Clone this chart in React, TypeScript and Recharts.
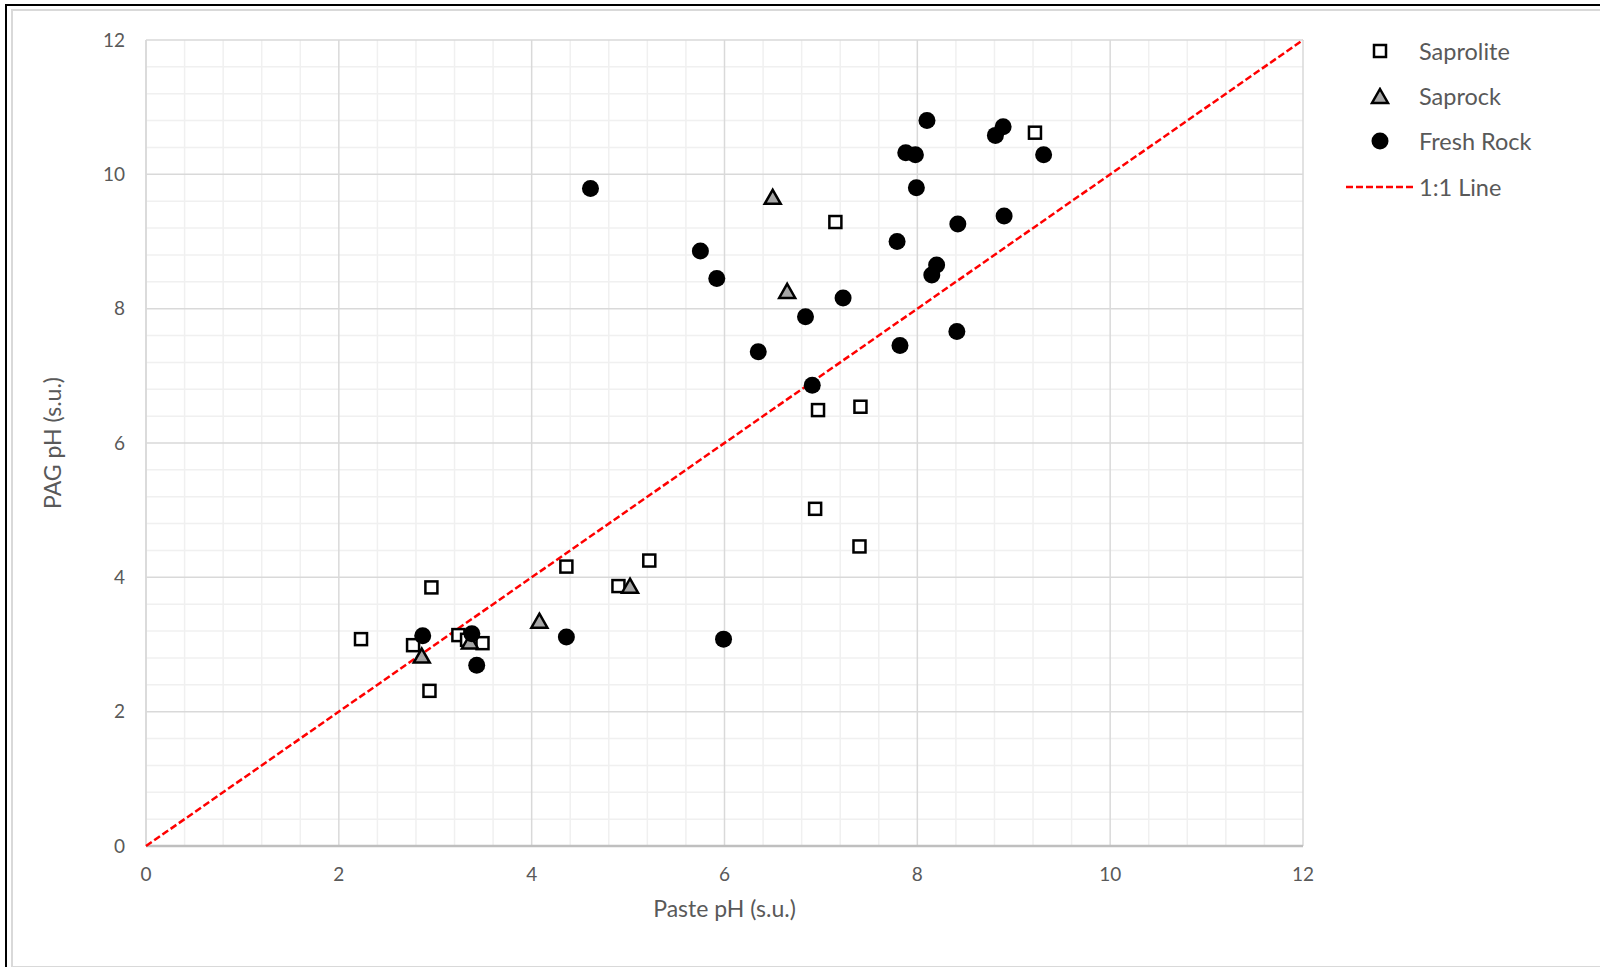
import { ScatterChart, Scatter, XAxis, YAxis, CartesianGrid, ReferenceLine } from 'recharts';

// Saprolite (open squares)
const saproliteX = [2.23, 2.77, 2.96, 2.94, 3.24, 3.33, 3.49, 4.36, 4.9, 5.22, 7.15, 6.97, 7.41, 6.94, 7.4, 9.22];
const saproliteY = [3.08, 2.99, 3.85, 2.31, 3.14, 3.07, 3.02, 4.16, 3.87, 4.25, 9.29, 6.49, 6.54, 5.02, 4.46, 10.62];

// Saprock (grey triangles)
const saprockX = [2.86, 3.36, 4.08, 5.02, 6.5, 6.65];
const saprockY = [2.82, 3.03, 3.34, 3.86, 9.65, 8.25];

// Fresh Rock (filled circles)
const freshX = [2.87, 3.38, 3.43, 4.36, 5.99, 4.61, 5.75, 5.92, 6.35, 6.84, 6.91, 7.23, 7.79, 7.82, 7.88, 7.98, 7.99, 8.1, 8.15, 8.2, 8.42, 8.41, 8.81, 8.89, 8.9, 9.31];
const freshY = [3.13, 3.16, 2.69, 3.11, 3.08, 9.79, 8.86, 8.45, 7.36, 7.88, 6.86, 8.16, 9.0, 7.45, 10.32, 10.29, 9.8, 10.8, 8.5, 8.65, 9.26, 7.66, 10.58, 10.71, 9.38, 10.29];

// 1:1 line end points
const lineX = [0, 12];
const lineY = [0, 12];

const majorTicks = [0, 2, 4, 6, 8, 10, 12];
const minorTicks = [0.4, 0.8, 1.2, 1.6, 2.4, 2.8, 3.2, 3.6, 4.4, 4.8, 5.2, 5.6, 6.4, 6.8, 7.2, 7.6, 8.4, 8.8, 9.2, 9.6, 10.4, 10.8, 11.2, 11.6];

const toPoints = (xs: number[], ys: number[]) => xs.map((x, i) => ({ x, y: ys[i] }));

const saprolite = toPoints(saproliteX, saproliteY);
const saprock = toPoints(saprockX, saprockY);
const freshRock = toPoints(freshX, freshY);
const oneToOne = toPoints(lineX, lineY);

const FONT = 'Lato, "Open Sans", sans-serif';
const TEXT = '#595959';

const Square = (p: any) => (
  <rect x={p.cx - 6} y={p.cy - 6} width={12} height={12} fill="#fff" stroke="#000" strokeWidth={2.5} />
);
const Triangle = (p: any) => (
  <path d={`M${p.cx},${p.cy - 8} L${p.cx + 8},${p.cy + 6} L${p.cx - 8},${p.cy + 6} Z`} fill="#a6a6a6" stroke="#000" strokeWidth={2.5} strokeLinejoin="miter" />
);
const Dot = (p: any) => <circle cx={p.cx} cy={p.cy} r={8.5} fill="#000" />;
const Nothing = () => <g />;

function LegendBox() {
  const row = { display: 'flex', alignItems: 'center', height: 45.3 } as const;
  const mark = { width: 67, display: 'flex', justifyContent: 'center' } as const;
  const label = { fontFamily: FONT, fontSize: 23.5, color: TEXT, marginLeft: 6 } as const;
  return (
    <div style={{ position: 'absolute', left: 1346, top: 28 }}>
      <div style={row}>
        <div style={mark}><svg width={16} height={16}><rect x={2} y={2} width={12} height={12} fill="#fff" stroke="#000" strokeWidth={2.5} /></svg></div>
        <span style={label}>Saprolite</span>
      </div>
      <div style={row}>
        <div style={mark}><svg width={20} height={18}><path d="M10,2 L18,16 L2,16 Z" fill="#a6a6a6" stroke="#000" strokeWidth={2.5} /></svg></div>
        <span style={label}>Saprock</span>
      </div>
      <div style={row}>
        <div style={mark}><svg width={18} height={18}><circle cx={9} cy={9} r={8.5} fill="#000" /></svg></div>
        <span style={label}>Fresh Rock</span>
      </div>
      <div style={row}>
        <div style={mark}><svg width={67} height={6}><line x1={0} y1={3} x2={67} y2={3} stroke="#ff0000" strokeWidth={2.5} strokeDasharray="7 3" /></svg></div>
        <span style={label}>1:1 Line</span>
      </div>
    </div>
  );
}

export default function App() {
  return (
    <div style={{ position: 'absolute', left: 0, top: 0, width: 1600, height: 967, background: '#fff', overflow: 'hidden' }}>
      {/* frame of the original screenshot */}
      <div style={{ position: 'absolute', left: 5, top: 4, width: 1600, height: 967, borderLeft: '2.5px solid #000', borderTop: '2.5px solid #000' }} />
      <div style={{ position: 'absolute', left: 11, top: 9, width: 1600, height: 955, borderLeft: '2px solid #d9d9d9', borderTop: '2px solid #d9d9d9', borderBottom: '3px solid #d9d9d9' }} />
      <ScatterChart width={1600} height={967} margin={{ top: 40, right: 297, bottom: 41, left: 40 }} style={{ position: 'absolute', left: 0, top: 0 }}>
        {minorTicks.map((v) => (
          <ReferenceLine key={'vx' + v} x={v} stroke="#f0f0f0" strokeWidth={1.5} zIndex={-110} />
        ))}
        {minorTicks.map((v) => (
          <ReferenceLine key={'hy' + v} y={v} stroke="#f0f0f0" strokeWidth={1.5} zIndex={-110} />
        ))}
        <CartesianGrid stroke="#d9d9d9" strokeWidth={1.5} />
        <XAxis
          type="number"
          dataKey="x"
          domain={[0, 12]}
          ticks={majorTicks}
          axisLine={{ stroke: '#bfbfbf', strokeWidth: 2.5 }}
          tickLine={false}
          tickSize={0}
          tickMargin={22}
          height={80}
          tick={{ fill: TEXT, fontSize: 19, fontFamily: FONT }}
          label={{ value: 'Paste pH (s.u.)', position: 'insideBottom', offset: 9, fill: TEXT, fontSize: 23, fontFamily: FONT }}
        />
        <YAxis
          type="number"
          dataKey="y"
          domain={[0, 12]}
          ticks={majorTicks}
          axisLine={{ stroke: '#d9d9d9', strokeWidth: 1.5 }}
          tickLine={false}
          tickSize={0}
          tickMargin={21}
          width={106}
          tick={{ fill: TEXT, fontSize: 19, fontFamily: FONT }}
          label={{ value: 'PAG pH (s.u.)', angle: -90, position: 'insideLeft', offset: 13, fill: TEXT, fontSize: 23, fontFamily: FONT, style: { textAnchor: 'middle' } }}
        />
        <Scatter name="1:1 Line" data={oneToOne} line={{ stroke: '#ff0000', strokeWidth: 2.5, strokeDasharray: '7 3' }} shape={Nothing} isAnimationActive={false} />
        <Scatter name="Saprolite" data={saprolite} shape={Square} isAnimationActive={false} />
        <Scatter name="Saprock" data={saprock} shape={Triangle} isAnimationActive={false} />
        <Scatter name="Fresh Rock" data={freshRock} shape={Dot} isAnimationActive={false} />
      </ScatterChart>
      <LegendBox />
    </div>
  );
}
